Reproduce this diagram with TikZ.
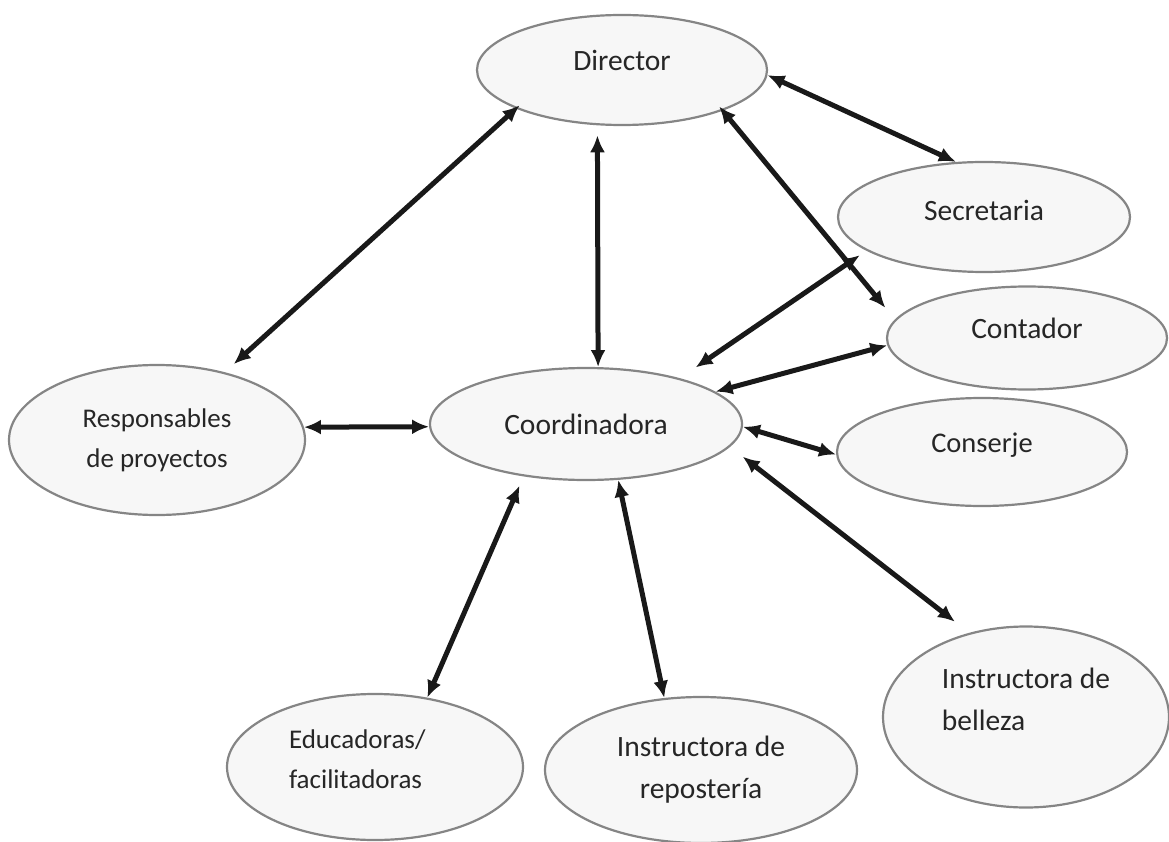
\documentclass[tikz,border=0pt]{standalone}
\usepackage{fontspec}
\setmainfont{Carlito}
\usetikzlibrary{shapes.geometric,arrows.meta}

\begin{document}
\begin{tikzpicture}[x=1pt, y=-1pt, >={Latex[length=17pt,width=15pt]},
    every node/.style={font=\fontsize{29.5}{42}\selectfont, text=black!85},
    small/.style={font=\fontsize{27}{40}\selectfont},
    role/.style={ellipse, draw=black!48, line width=2.2pt, fill=black!3, inner sep=0pt},
    link/.style={<->, line width=5pt, black!90}]
  \useasboundingbox (0,0) rectangle (1169,842);

  \node (dir)  [role, minimum width=290pt, minimum height=110pt, text depth=20pt] at (622,70)  {Director};
  \node (sec)  [role, minimum width=292pt, minimum height=110pt, text depth=14pt] at (984,217) {Secretaria};
  \node (cont) [role, minimum width=280pt, minimum height=103pt, text depth=20pt] at (1027,338) {Contador};
  \node (cons) [role, minimum width=290pt, minimum height=108pt, text depth=18pt,
                font=\fontsize{28.5}{40}\selectfont] at (982,452) {Conserje};
  \node (coord)[role, minimum width=312pt, minimum height=112pt] at (586,424) {Coordinadora};
  \node (resp) [role, small, minimum width=296pt, minimum height=150pt, align=center] at (157,440)
               {Responsables\\de proyectos};
  \node (edu)  [role, small, minimum width=296pt, minimum height=146pt, align=left,
                text width=172pt, text depth=56pt] at (375,767)
               {Educadoras/\\facilitadoras};
  \node (repo) [role, minimum width=312pt, minimum height=146pt, align=center] at (701,770)
               {Instructora de\\repostería};
  \node (bel)  [role, minimum width=286pt, minimum height=181pt, align=left,
                text depth=36pt] at (1026,717)
               {Instructora de\\belleza};

  \draw[link, shorten <=-5pt, shorten >=12pt] (dir.200.3) -- (resp.45);
  \draw[link, shorten <=10pt] (dir.246) -- (coord.78);
  \draw[link] (dir.358) -- (sec.117);
  \draw[link, shorten <=-5.5pt, shorten >=15pt] (dir.338.8) -- (cont.172.8);
  \draw[link, shorten <=8pt, shorten >=19pt] (sec.196.3) -- (coord.26.5);
  \draw[link] (cont.183) -- (coord.14.5);
  \draw[link] (cons.181) -- (coord.359);
  \draw[link, shorten <=16pt, shorten >=18pt] (coord.351.2) -- (bel.124.2);
  \draw[link] (resp.5) -- (coord.181);
  \draw[link, shorten <=10pt] (coord.220.8) -- (edu.53);
  \draw[link] (coord.300) -- (repo.117);
\end{tikzpicture}
\end{document}
